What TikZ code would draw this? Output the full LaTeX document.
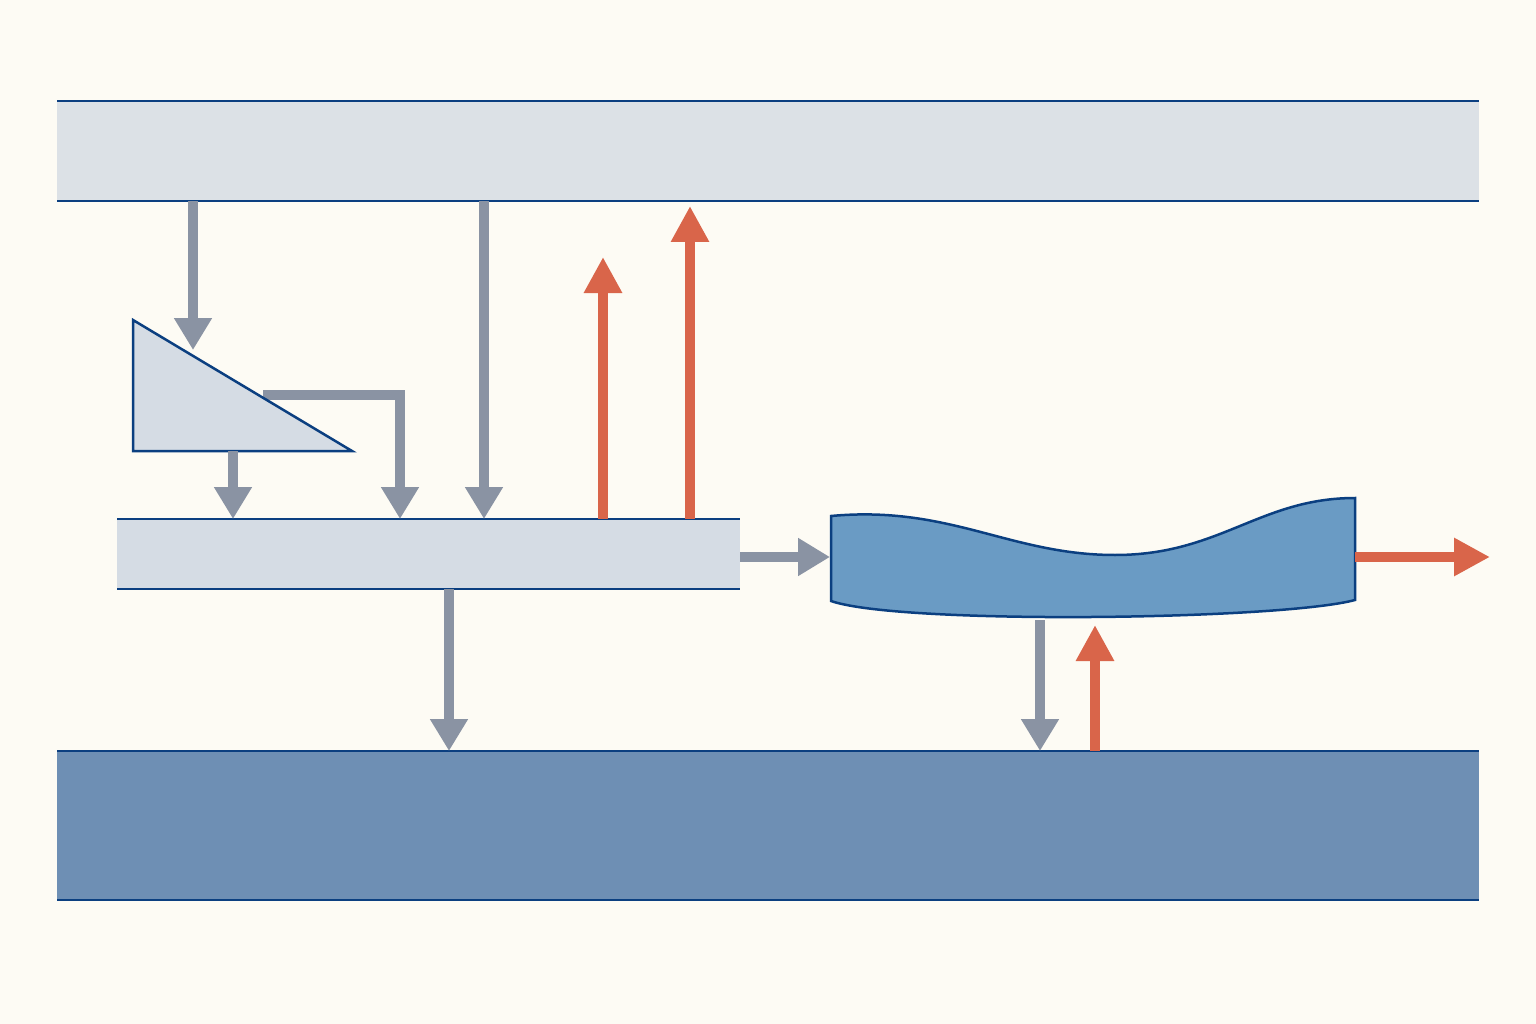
\documentclass[tikz,border=0pt]{standalone}
\usetikzlibrary{arrows.meta}
\definecolor{bg}{HTML}{FDFBF4}
\definecolor{edge}{HTML}{0B3F80}
\definecolor{lite}{HTML}{DCE1E6}
\definecolor{mid}{HTML}{D5DCE4}
\definecolor{deep}{HTML}{6E8FB4}
\definecolor{wave}{HTML}{6A9BC4}
\definecolor{gr}{HTML}{8A93A3}
\definecolor{rd}{HTML}{D9654A}
\begin{document}
\begin{tikzpicture}[x=1pt,y=-1pt,
  line/.style={draw=edge,line width=2.5pt},
  ga/.style={draw=gr,line width=10pt,-{Triangle[width=36pt,length=32pt]}},
  ra/.style={draw=rd,line width=10pt,-{Triangle[width=36pt,length=36pt]}}]
\fill[bg] (0,0) rectangle (1536,1024);
\useasboundingbox (0,0) rectangle (1536,1024);
% bands
\fill[lite] (57,101) rectangle (1479,201);
\draw[line] (57,101) -- (1479,101) (57,201) -- (1479,201);
\fill[deep] (57,751) rectangle (1479,900);
\draw[line] (57,751) -- (1479,751) (57,900) -- (1479,900);
\fill[mid] (117,519) rectangle (740,589);
\draw[line] (117,519) -- (740,519) (117,589) -- (740,589);
% elbow from triangle
\draw[ga] (263,395) -- (400,395) -- (400,519);
% triangle
\draw[line,fill=mid] (133,320) -- (133,451) -- (352,451) -- cycle;
% wave shape
\draw[line,fill=wave] (831,516) .. controls (950,505) and (1010,555) .. (1115,555)
  .. controls (1220,555) and (1260,498) .. (1355,498) -- (1355,600)
  .. controls (1280,620) and (900,625) .. (831,601) -- cycle;
% arrows
\coordinate (a1) at (193,201); \coordinate (a1e) at (193,350);
\draw[ga] (a1) -- (a1e);
\draw[ga] (233,451) -- (233,519);
\draw[ga] (484,201) -- (484,519);
\draw[ra] (603,519) -- (603,257);
\draw[ra] (690,519) -- (690,206);
\draw[ga] (740,557) -- (830,557);
\draw[ga] (449,589) -- (449,751);
\draw[ra] (1355,557) -- (1490,557);
\draw[ga] (1040,620) -- (1040,751);
\draw[ra] (1095,751) -- (1095,625);
\end{tikzpicture}
\end{document}
